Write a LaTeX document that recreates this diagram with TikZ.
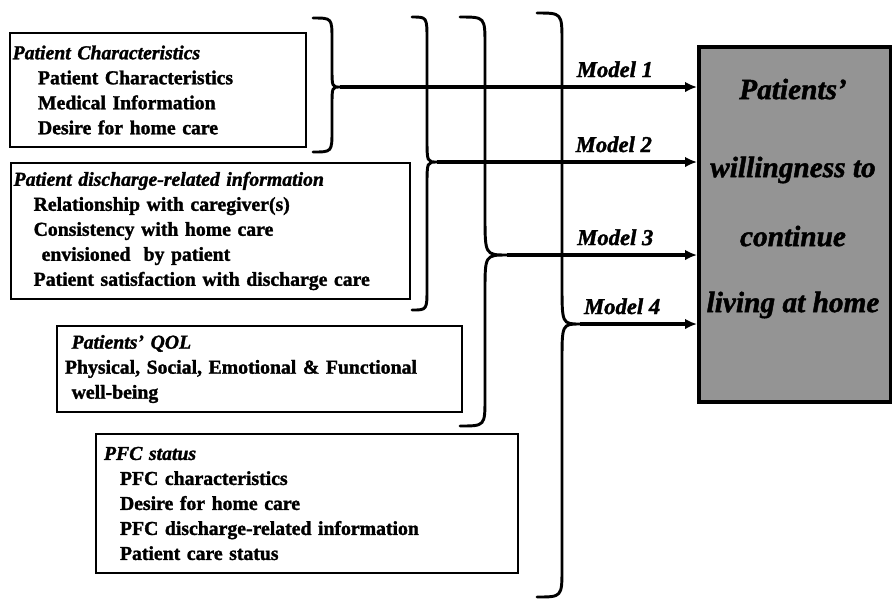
\documentclass[tikz,border=0pt]{standalone}
\usepackage{fontspec}
\setmainfont{Liberation Serif}[BoldFeatures={FakeBold=1.5},BoldItalicFeatures={FakeBold=1.5}]
\usetikzlibrary{arrows.meta,positioning,calc}

\begin{document}
\begin{tikzpicture}[x=0.75pt,y=-0.75pt,
		factor/.style={draw,line width=1.5pt,anchor=north west,align=left,inner xsep=2pt,inner ysep=0pt,
			font=\fontsize{14.8}{18.75}\selectfont\bfseries},
		modelbrace/.style={line width=2.2pt,line cap=round},
		modelarrow/.style={line width=2.6pt,-{Latex[length=9pt,width=8pt]}},
		modellabel/.style={above=6pt,inner sep=0pt,font=\fontsize{17}{20}\selectfont\bfseries\itshape}]
	\useasboundingbox (0,0) rectangle (892,601);
	%
	\node[factor,text width=218pt,minimum height=85.5pt] (patchar) at (9,32)
		{\textit{Patient Characteristics}\\
		\hspace*{19pt}Patient Characteristics\\
		\hspace*{19pt}Medical Information\\
		\hspace*{19pt}Desire for home care};
	\node[factor,text width=295.25pt,minimum height=102pt] (discharge) at (10,162)
		{\textit{Patient discharge-related information}\\
		\hspace*{15pt}Relationship with caregiver(s)\\
		\hspace*{15pt}Consistency with home care\\
		\hspace*{21pt}envisioned\ \ by patient\\
		\hspace*{15pt}Patient satisfaction with discharge care};
	\node[factor,text width=299.75pt,minimum height=64.5pt] (qol) at (56,325)
		{\hspace*{9pt}\textit{Patients' QOL}\\
		\hspace*{4pt}Physical, Social, Emotional \& Functional\\
		\hspace*{9pt}well-being};
	\node[factor,text width=312.5pt,minimum height=104.25pt] (pfc) at (95,433)
		{\hspace*{4pt}\textit{PFC status}\\
		\hspace*{16pt}PFC characteristics\\
		\hspace*{16pt}Desire for home care\\
		\hspace*{16pt}PFC discharge-related information\\
		\hspace*{16pt}Patient care status};
	%
	\node[draw,line width=3pt,fill=black!42,anchor=north west,inner sep=0pt,
		minimum width=144pt,minimum height=266.25pt] (outcome) at (697,45) {};
	\node[anchor=north,align=center,font=\fontsize{22}{25}\selectfont\bfseries\itshape]
		(outcometext) at (793,74)
		{Patients'\\[33.5pt]willingness to\\[26.75pt]continue\\[24.5pt]living at home};
	%
	\draw[modelbrace] (313,18) .. controls (332,18) .. (332,40) -- (332,68)
		.. controls (332,87) .. (340,87) coordinate (tip1)
		.. controls (332,87) .. (332,106) -- (332,130) .. controls (332,152) .. (313,152);
	\draw[modelbrace] (412,17) .. controls (427,17) .. (427,40) -- (427,138)
		.. controls (427,162) .. (437,162) coordinate (tip2)
		.. controls (427,162) .. (427,186) -- (427,288) .. controls (427,310) .. (412,310);
	\draw[modelbrace] (460,17) .. controls (485,17) .. (485,45) -- (485,215)
		.. controls (485,255) .. (507,255) coordinate (tip3)
		.. controls (485,255) .. (485,292) -- (485,398) .. controls (485,426) .. (460,426);
	\draw[modelbrace] (537,13) .. controls (562,13) .. (562,42) -- (562,284)
		.. controls (562,324) .. (580,324) coordinate (tip4)
		.. controls (562,324) .. (562,362) -- (562,568) .. controls (562,597) .. (537,597);
	%
	\draw[modelarrow] (tip1) -- (tip1 -| outcome.west) node[modellabel,pos=0.77] (model1) {Model 1};
	\draw[modelarrow] (tip2) -- (tip2 -| outcome.west) node[modellabel,pos=0.68] (model2) {Model 2};
	\draw[modelarrow] (tip3) -- (tip3 -| outcome.west) node[modellabel,pos=0.57] (model3) {Model 3};
	\draw[modelarrow] (tip4) -- (tip4 -| outcome.west) node[modellabel,pos=0.36] (model4) {Model 4};
\end{tikzpicture}
\end{document}
